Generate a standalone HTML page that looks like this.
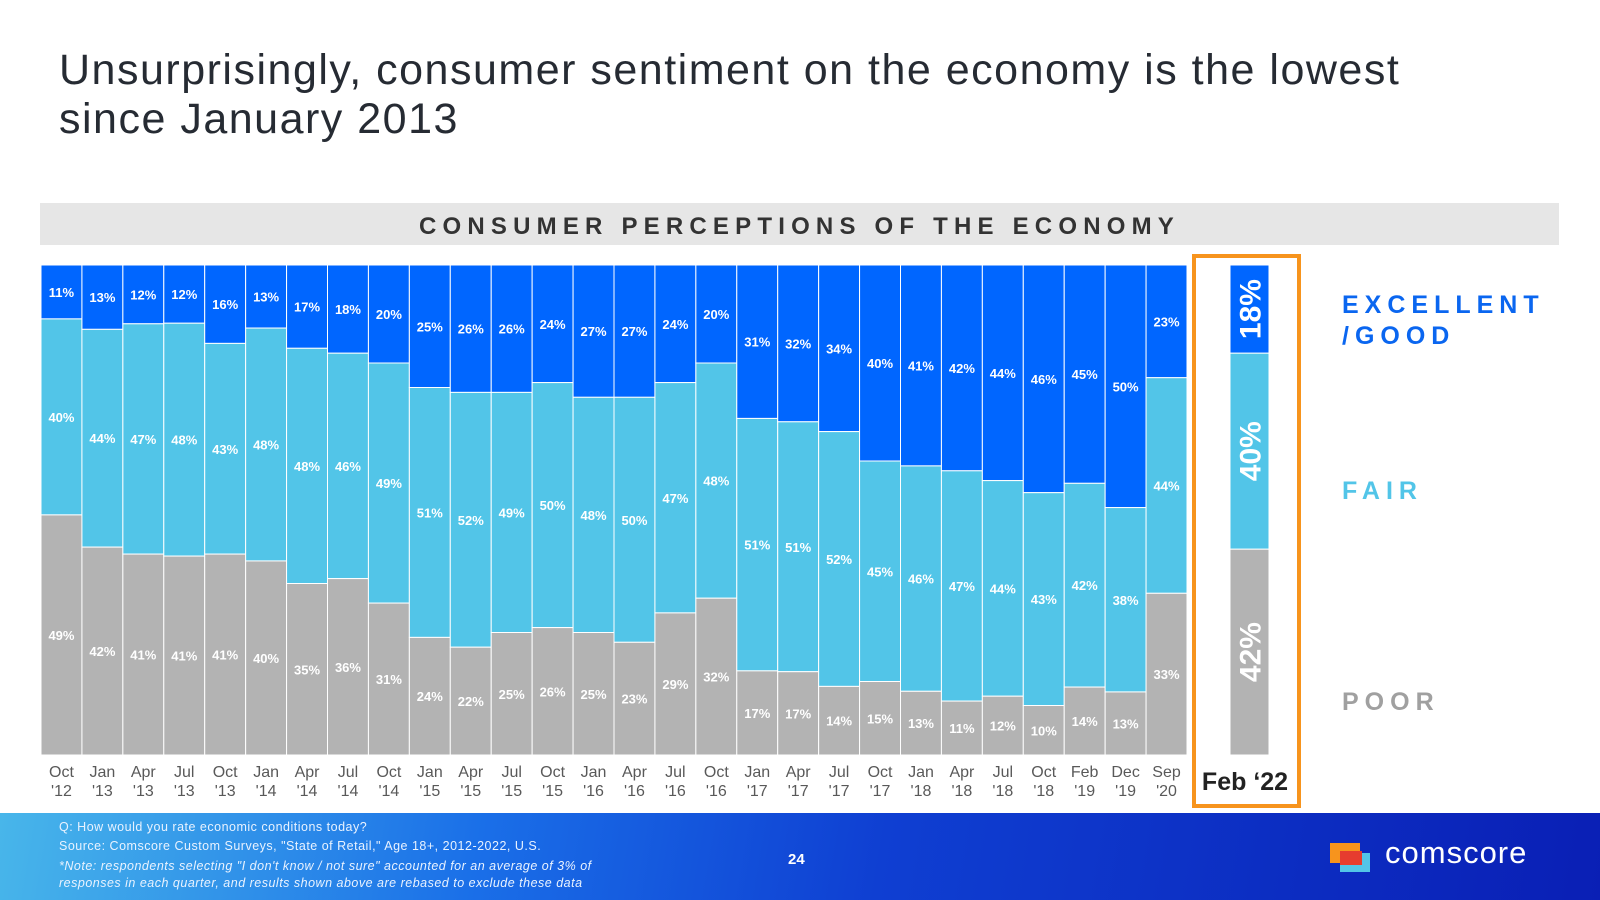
<!DOCTYPE html>
<html><head><meta charset="utf-8"><style>
body{margin:0;width:1600px;height:900px;overflow:hidden;background:#fff;font-family:"Liberation Sans",Arial,sans-serif;position:relative}
.t{position:absolute;left:59px;top:46px;font-size:43px;color:#262b33;line-height:49px;letter-spacing:1.5px}
.band{position:absolute;left:40px;top:203px;width:1519px;height:42px;background:#e6e6e6;text-align:center;font-weight:bold;font-size:24px;letter-spacing:6.2px;line-height:48px;color:#333}
.foot{position:absolute;left:0;top:813px;width:1600px;height:87px;background:linear-gradient(100deg,#48b6ea 0%,#1a6fe8 30%,#0f3fd2 55%,#0a1fb5 100%)}
.ft{position:absolute;left:59px;color:#e8f2ff;font-size:12.5px;letter-spacing:.5px}
.lg{position:absolute;left:1342px;font-weight:bold;font-size:25px;letter-spacing:6px;line-height:31px}
</style></head><body>
<div class="t">Unsurprisingly, consumer sentiment on the economy is the lowest<br>since January 2013</div>
<div class="band">CONSUMER PERCEPTIONS OF THE ECONOMY</div>
<svg id="chart" width="1600" height="900" style="position:absolute;left:0;top:0"></svg>
<div style="position:absolute;left:1192px;top:254px;width:101px;height:546px;border:4px solid #f7941d"></div>
<div class="lg" style="top:290px;color:#0a66f0">EXCELLENT<br>/GOOD</div>
<div class="lg" style="top:476px;color:#52c5e8">FAIR</div>
<div class="lg" style="top:687px;color:#a0a0a0">POOR</div>
<div class="foot">
<div class="ft" style="top:7px">Q: How would you rate economic conditions today?</div>
<div class="ft" style="top:26px">Source: Comscore Custom Surveys, "State of Retail," Age 18+, 2012-2022, U.S.</div>
<div class="ft" style="top:45px;font-style:italic;line-height:17px">*Note: respondents selecting "I don't know / not sure" accounted for an average of 3% of<br>responses in each quarter, and results shown above are rebased to exclude these data</div>
<div style="position:absolute;left:788px;top:38px;color:#fff;font-weight:bold;font-size:15px">24</div>
<div style="position:absolute;left:1330px;top:30px;width:30px;height:20px;background:#f7941d"></div>
<div style="position:absolute;left:1340px;top:40px;width:30px;height:19px;background:#52c5e8"></div>
<div style="position:absolute;left:1340px;top:38px;width:22px;height:14px;background:#e63c2f"></div>
<div style="position:absolute;left:1385px;top:22px;color:#fff;font-size:31px;letter-spacing:1px">comscore</div>
</div>
<script>
const categories=["Oct|'12","Jan|'13","Apr|'13","Jul|'13","Oct|'13","Jan|'14","Apr|'14","Jul|'14","Oct|'14","Jan|'15","Apr|'15","Jul|'15","Oct|'15","Jan|'16","Apr|'16","Jul|'16","Oct|'16","Jan|'17","Apr|'17","Jul|'17","Oct|'17","Jan|'18","Apr|'18","Jul|'18","Oct|'18","Feb|'19","Dec|'19","Sep|'20"];
const good=[11,13,12,12,16,13,17,18,20,25,26,26,24,27,27,24,20,31,32,34,40,41,42,44,46,45,50,23];
const fair=[40,44,47,48,43,48,48,46,49,51,52,49,50,48,50,47,48,51,51,52,45,46,47,44,43,42,38,44];
const poor=[49,42,41,41,41,40,35,36,31,24,22,25,26,25,23,29,32,17,17,14,15,13,11,12,10,14,13,33];
const febGood=18, febFair=40, febPoor=42;
const svg=document.getElementById('chart');const NS='http://www.w3.org/2000/svg';
const X0=41,X1=1187,TOP=265,BOT=755;
const bw=(X1-X0)/categories.length;
function xPos(i){return X0+i*bw;}
function yScale(v,total){return (BOT-TOP)*v/total;}
function rect(x,y,w,h,c){const r=document.createElementNS(NS,'rect');r.setAttribute('x',x);r.setAttribute('y',y);r.setAttribute('width',w);r.setAttribute('height',h);r.setAttribute('fill',c);r.setAttribute('stroke','#fff');r.setAttribute('stroke-width','1');svg.appendChild(r);return r;}
function txt(x,y,s,c,sz,w,extra){const t=document.createElementNS(NS,'text');t.setAttribute('x',x);t.setAttribute('y',y);t.setAttribute('fill',c);t.setAttribute('font-size',sz);t.setAttribute('font-weight',w);t.setAttribute('text-anchor','middle');t.setAttribute('font-family','Liberation Sans, Arial, sans-serif');if(extra)t.setAttribute('transform',extra);t.textContent=s;svg.appendChild(t);return t;}
categories.forEach((c,i)=>{
 const tot=good[i]+fair[i]+poor[i];const x=xPos(i);
 const hg=yScale(good[i],tot),hf=yScale(fair[i],tot),hp=yScale(poor[i],tot);
 let r=rect(x,TOP,bw,hg,'#0066ff');
 
 
 r=rect(x,TOP+hg,bw,hf,'#52c5e8');
 
 
 r=rect(x,TOP+hg+hf,bw,hp,'#b3b3b3');
 
 
 const cx=x+bw/2;
 txt(cx,TOP+hg/2+5,good[i]+'%','#fff',13,'bold');
 txt(cx,TOP+hg+hf/2+5,fair[i]+'%','#fff',13,'bold');
 txt(cx,TOP+hg+hf+hp/2+5,poor[i]+'%','#fff',13,'bold');
 const p=c.split('|');
 let t=txt(cx,777,p[0],'#595959',16,'normal');
 
 
 txt(cx,796,p[1],'#595959',16,'normal');
});
const ftot=febGood+febFair+febPoor;const fx=1230,fw=39;
const fg=yScale(febGood,ftot),ff=yScale(febFair,ftot),fp=yScale(febPoor,ftot);
let r=rect(fx,TOP,fw,fg,'#0066ff');


r=rect(fx,TOP+fg,fw,ff,'#52c5e8');


r=rect(fx,TOP+fg+ff,fw,fp,'#b3b3b3');


[[febGood,TOP+fg/2],[febFair,TOP+fg+ff/2],[febPoor,TOP+fg+ff+fp/2]].forEach(a=>{
 txt(0,0,a[0]+'%','#fff',30,'bold','translate('+(fx+fw/2+11)+','+a[1]+') rotate(-90)');
});
let ft=txt(1245,790,'Feb \u201822','#222',25,'bold');


</script>
</body></html>
